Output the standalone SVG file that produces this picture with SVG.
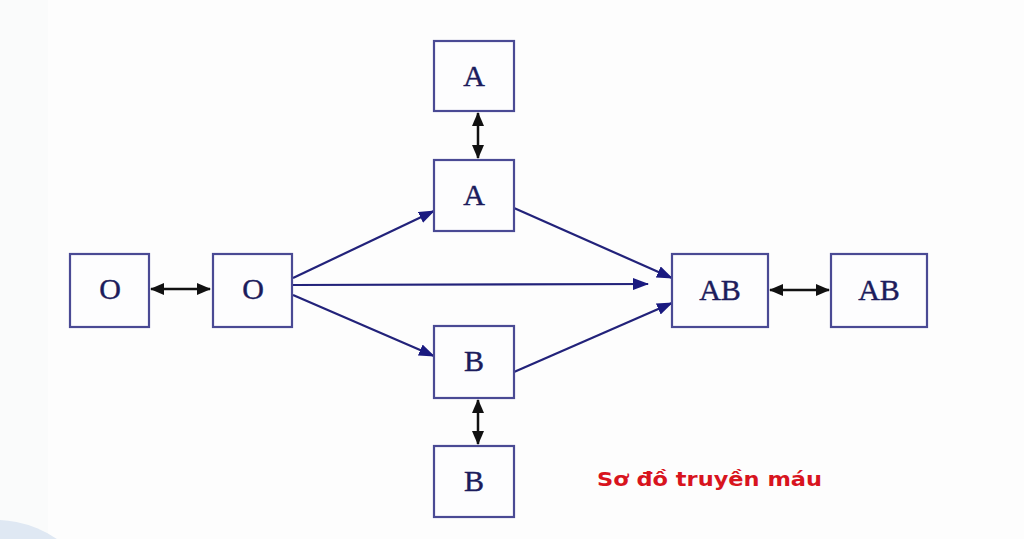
<svg xmlns="http://www.w3.org/2000/svg" width="1024" height="539" viewBox="0 0 1024 539">
<style>
.box{fill:#fdfdfe;stroke:#4a4a94;stroke-width:2.2}
.lbl{font-family:"Liberation Serif","Times New Roman",serif;font-size:30px;fill:#1c1c5c;text-anchor:middle;stroke:#1c1c5c;stroke-width:0.4}
.blue{stroke:#22227a;stroke-width:2.2;fill:none;marker-end:url(#ah)}
.blk{stroke:#111;stroke-width:2.5;fill:none;marker-start:url(#bk);marker-end:url(#bk)}
</style>
<defs>
<marker id="ah" markerUnits="userSpaceOnUse" markerWidth="16" markerHeight="12" refX="15" refY="6" orient="auto">
<path d="M0,0 L16,6 L0,12 Z" fill="#1a1a80"/>
</marker>
<marker id="bk" markerUnits="userSpaceOnUse" markerWidth="14" markerHeight="12" refX="13" refY="6" orient="auto-start-reverse">
<path d="M0,0 L14,6 L0,12 Z" fill="#111"/>
</marker>
</defs>
<rect width="1024" height="539" fill="#fdfdfd"/>
<rect width="48" height="539" fill="#fafbfb"/>
<circle cx="-5" cy="630" r="110" fill="#dfe8f3"/>
<g id="connectors">
<line class="blk" x1="151" y1="289" x2="210" y2="289"/>
<line class="blk" x1="478" y1="113" x2="478" y2="158"/>
<line class="blk" x1="478" y1="400" x2="478" y2="444"/>
<line class="blk" x1="770" y1="290" x2="829" y2="290"/>
<line class="blue" x1="293" y1="278" x2="434" y2="211"/>
<line class="blue" x1="293" y1="285" x2="648" y2="284"/>
<line class="blue" x1="293" y1="295" x2="434" y2="356"/>
<line class="blue" x1="514" y1="208" x2="672" y2="278"/>
<line class="blue" x1="514" y1="372" x2="672" y2="303"/>
</g>
<g id="node-o1"><rect class="box" x="70" y="254" width="79" height="73"/><text class="lbl" x="110" y="299">O</text></g>
<g id="node-o2"><rect class="box" x="213" y="254" width="79" height="73"/><text class="lbl" x="253" y="299">O</text></g>
<g id="node-a1"><rect class="box" x="434" y="41" width="80" height="70"/><text class="lbl" x="474" y="86">A</text></g>
<g id="node-a2"><rect class="box" x="434" y="160" width="80" height="71"/><text class="lbl" x="474" y="205">A</text></g>
<g id="node-b1"><rect class="box" x="434" y="326" width="80" height="72"/><text class="lbl" x="474" y="371">B</text></g>
<g id="node-b2"><rect class="box" x="434" y="446" width="80" height="71"/><text class="lbl" x="474" y="491">B</text></g>
<g id="node-ab1"><rect class="box" x="672" y="254" width="96" height="73"/><text class="lbl" x="720" y="300">AB</text></g>
<g id="node-ab2"><rect class="box" x="831" y="254" width="96" height="73"/><text class="lbl" x="879" y="300">AB</text></g>
<text x="597" y="486" font-family="'DejaVu Sans',Verdana,sans-serif" font-weight="bold" font-size="20" fill="#d8141e" textLength="225" lengthAdjust="spacingAndGlyphs">Sơ đồ truyền máu</text>
</svg>
